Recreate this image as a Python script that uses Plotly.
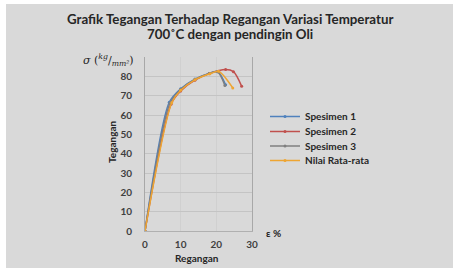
import plotly.graph_objects as go

title_lines = ["Grafik Tegangan Terhadap Regangan Variasi Temperatur", "700˚C dengan pendingin Oli"]
series_names = ["Spesimen 1", "Spesimen 2", "Spesimen 3", "Nilai Rata-rata"]

x_s1 = [0, 6.8, 10, 14, 18, 20.4, 22.6]
y_s1 = [0, 66.6, 73.6, 78.6, 81.5, 82.4, 75.6]
x_s2 = [0, 7.3, 10, 14, 18, 22.6, 24.8, 27.1]
y_s2 = [0, 65.6, 72.4, 78.0, 81.4, 83.5, 82.4, 74.9]
x_s3 = [0, 7.0, 10, 14, 18, 20.3, 22.4]
y_s3 = [0, 66.2, 73.2, 78.4, 81.5, 82.4, 75.3]
x_avg = [0, 7.5, 10, 14, 18.2, 20.6, 24.6]
y_avg = [0, 66.3, 72.8, 78.2, 81.3, 82.6, 74.0]

x_ticks = [0, 10, 20, 30]
y_ticks = [0, 10, 20, 30, 40, 50, 60, 70, 80]

colors = ["#4F81BD", "#C0504D", "#7F7F7F", "#EEA532"]

# page placement (figure sits inside a thin white page border)
OFFX, OFFY = 6, 4
W, H = 447, 264
PL, PR, PT, PB = 145, 252, 57, 231  # plot area in page pixels
L, T = PL - OFFX, PT - OFFY
R = W - L - (PR - PL)
B = H - T - (PB - PT)


def px_x(p):
    return (p - PL) / (PR - PL)


def px_y(p):
    return (PB - p) / (PB - PT)


font_main = "Lato, 'Open Sans', sans-serif"
txt = "#262626"

fig = go.Figure()
legend_ids = ["legend", "legend2", "legend3", "legend4"]
legend_rows = [116.5, 131.5, 146, 160.5]
for name, xs, ys, c, lid in zip(series_names, [x_s1, x_s2, x_s3, x_avg], [y_s1, y_s2, y_s3, y_avg], colors, legend_ids):
    fig.add_trace(go.Scatter(x=xs, y=ys, name=name, mode="lines+markers", legend=lid,
                             line=dict(color=c, width=1.5, shape="spline", smoothing=0.8),
                             marker=dict(color=c, size=3)))


def add_text(text, x, y, size=10, angle=0, family=font_main, weight="bold"):
    fig.add_annotation(xref="paper", yref="paper", showarrow=False, text=text,
                       x=px_x(x), y=px_y(y), xanchor="center", yanchor="middle", textangle=angle,
                       font=dict(family=family, size=size, color=txt, weight=weight))


for i, txtline in enumerate(title_lines):
    add_text(txtline, 229.5, 18.5 + 16 * i, size=13.3)
add_text("Regangan", 197, 258)
add_text("Tegangan", 112, 142, angle=-90)
add_text("ε %", 273, 233)
add_text("<i>σ</i> (<sup><i>kg</i></sup>/<sub><i>mm²</i></sub>)", 108, 60, size=11,
         family="'DejaVu Serif', serif", weight="normal")

layout_legends = {}
for lid, row in zip(legend_ids, legend_rows):
    layout_legends[lid] = dict(x=px_x(265), y=px_y(row), xanchor="left", yanchor="middle",
                               bgcolor="rgba(0,0,0,0)", borderwidth=0,
                               font=dict(family=font_main, size=10, color=txt, weight="bold"),
                               itemwidth=30)

fig.update_layout(
    width=W, height=H,
    margin=dict(l=L, r=R, t=T, b=B, autoexpand=False),
    paper_bgcolor="#d9d9d9", plot_bgcolor="rgba(0,0,0,0)",
    showlegend=True,
    xaxis=dict(range=[0, 30], tickvals=x_ticks, showgrid=True, gridcolor="#d0d0d0", gridwidth=1,
               showline=True, linecolor="#b0b0b0", linewidth=1, zeroline=False,
               ticks="", ticklabelstandoff=4,
               tickfont=dict(family=font_main, size=10, color="#404040", weight="bold")),
    yaxis=dict(range=[0, 90], tickvals=y_ticks, showgrid=True, gridcolor="#c4c4c4", gridwidth=1,
               showline=True, linecolor="#a8a8a8", linewidth=1, mirror=True, zeroline=False,
               ticks="", ticklabelstandoff=10,
               tickfont=dict(family=font_main, size=10, color="#404040", weight="bold")),
    **layout_legends,
)
fig.write_html("out.html", post_script=(
    "document.body.style.margin='0';document.body.style.padding='%dpx 0 0 %dpx';"
    "document.body.style.background='white';" % (OFFY, OFFX)))
